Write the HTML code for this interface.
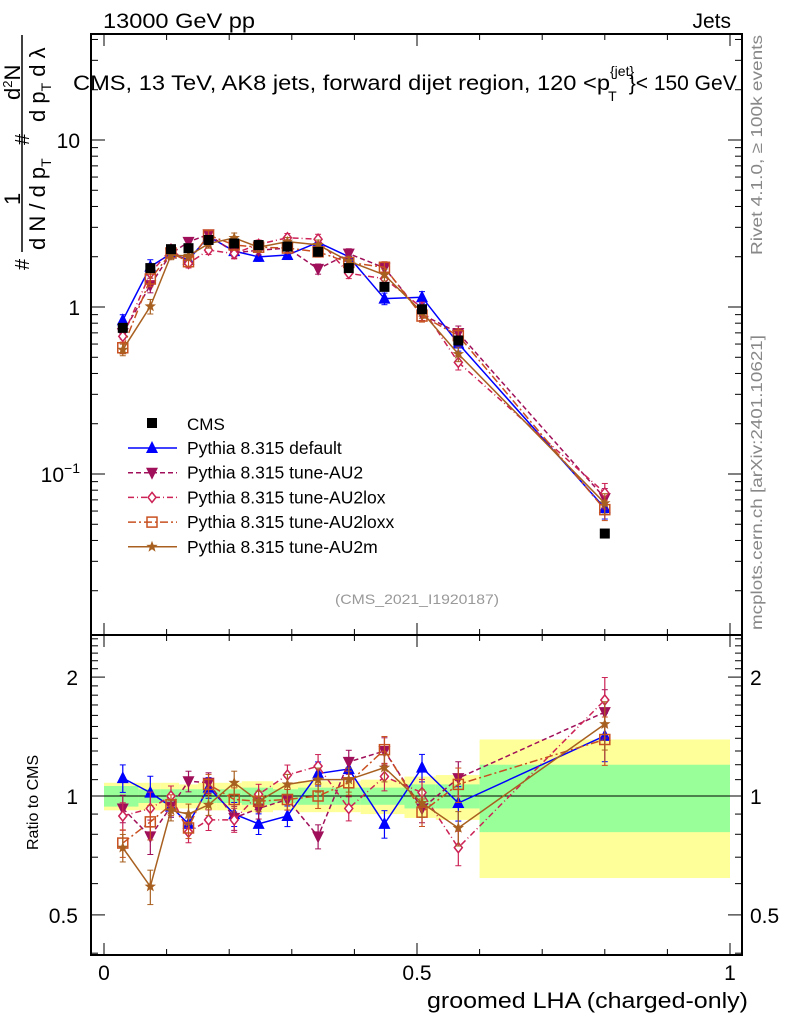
<!DOCTYPE html>
<html><head><meta charset="utf-8"><style>
body{margin:0;background:#fff;}
svg{display:block;font-family:"Liberation Sans",sans-serif;}
</style></head><body>
<svg id="c" width="786" height="1024" xmlns="http://www.w3.org/2000/svg"></svg>
<script>
const edges=[0,0.055,0.09,0.12,0.15,0.18,0.22,0.27,0.31,0.37,0.41,0.48,0.53,0.6,1.0];
const xs=[0.03,0.074,0.107,0.135,0.167,0.208,0.247,0.293,0.342,0.391,0.448,0.508,0.566,0.8];
const cms=[0.75,1.71,2.22,2.25,2.52,2.4,2.35,2.3,2.14,1.71,1.32,0.97,0.63,0.044];
const cmsErr=[0.06,0.04,0.04,0.04,0.04,0.04,0.05,0.04,0.05,0.05,0.05,0.07,0.07,0.2];
const cmsErr2=[0.08,0.08,0.08,0.07,0.08,0.08,0.09,0.08,0.09,0.09,0.1,0.12,0.13,0.39];
const cmsErrLo=[0.06,0.04,0.04,0.04,0.04,0.04,0.05,0.04,0.05,0.05,0.05,0.07,0.07,0.19];
const cmsErr2Lo=[0.08,0.08,0.08,0.07,0.08,0.08,0.09,0.08,0.09,0.09,0.1,0.12,0.13,0.38];
const rDefault=[1.11,1.02,0.94,0.85,1.05,0.90,0.85,0.89,1.14,1.17,0.85,1.18,0.96,1.42];
const rAU2=[0.93,0.79,0.94,1.09,1.08,0.88,0.93,0.98,0.79,1.22,1.30,0.93,1.11,1.63];
const rAU2lox=[0.89,0.93,1.0,0.81,0.87,0.87,1.01,1.13,1.19,0.93,1.12,1.02,0.74,1.75];
const rAU2loxx=[0.76,0.86,0.95,0.83,1.07,0.98,0.97,0.98,1.0,1.08,1.31,0.91,1.07,1.39];
const rAU2m=[0.74,0.59,0.92,0.90,0.95,1.08,0.97,1.07,1.10,1.10,1.18,0.96,0.83,1.52];
const mcErr=[0.08,0.1,0.06,0.06,0.06,0.07,0.06,0.06,0.07,0.07,0.08,0.08,0.1,0.14];

const svg=document.getElementById('c');
const NS='http://www.w3.org/2000/svg';
function mk(t,a,p){const e=document.createElementNS(NS,t);for(const k in a)e.setAttribute(k,a[k]);(p||svg).appendChild(e);return e;}
const L=91,R=742,T=34,M=635,B=955;
const X=v=>104+v*626;
const Ym=v=>307-Math.log10(v)*167;
const Yr=v=>796-Math.log10(v)*395;

edges.slice(0,-1).forEach((e,i)=>{
 const y1=Yr(1+cmsErr2[i]),y2=Yr(1-cmsErr2Lo[i]);
 const b=mk('rect',{x:X(e),y:y1,width:X(edges[i+1])-X(e),height:y2-y1,fill:'#ffff99'});
 
 
});
edges.slice(0,-1).forEach((e,i)=>{
 const y1=Yr(1+cmsErr[i]),y2=Yr(1-cmsErrLo[i]);
 const b=mk('rect',{x:X(e),y:y1,width:X(edges[i+1])-X(e),height:y2-y1,fill:'#99ff99'});
 
 
});
mk('line',{x1:L,x2:R,y1:Yr(1),y2:Yr(1),stroke:'#000','stroke-width':1});

mk('rect',{x:L,y:T,width:R-L,height:M-T,fill:'none',stroke:'#000','stroke-width':2,});
mk('rect',{x:L,y:M,width:R-L,height:B-M,fill:'none',stroke:'#000','stroke-width':2,});

for(let i=0;i<=10;i++){const v=i/10,x=X(v),big=i%5==0,h=big?12:6;
 [[T,1],[M,-1],[M,1],[B,-1]].forEach(([y,d])=>mk('line',{x1:x,x2:x,y1:y,y2:y+d*h,stroke:'#000'}));}
[['0',0],['0.5',0.5],['1',1]].forEach(([t,v])=>{const e=mk('text',{x:X(v),y:980,'font-size':21,'text-anchor':'middle'});e.textContent=t;});
for(let d=-2;d<=1;d++)for(let m=1;m<10;m++){const v=m*Math.pow(10,d),y=Ym(v);if(y<T||y>M)continue;const h=m==1?14:7;
 mk('line',{x1:L,x2:L+h,y1:y,y2:y,stroke:'#000'});mk('line',{x1:R,x2:R-h,y1:y,y2:y,stroke:'#000'});}
[['10',10],['1',1]].forEach(([t,v])=>{const e=mk('text',{x:80,y:Ym(v)+8,'font-size':21,'text-anchor':'end'});e.textContent=t;});
{const e=mk('text',{x:80,y:Ym(0.1)+8,'font-size':21,'text-anchor':'end',});e.innerHTML='10<tspan dy="-9" font-size="14">−1</tspan>';}
[0.4,0.5,0.6,0.7,0.8,0.9,1,1.1,1.2,1.3,1.4,1.5,1.6,1.7,1.8,1.9,2,2.1,2.2,2.3,2.4,2.5].forEach(v=>{const y=Yr(v);if(y<M||y>B)return;const big=[0.5,1,2].includes(v),h=big?14:7;
 mk('line',{x1:L,x2:L+h,y1:y,y2:y,stroke:'#000'});mk('line',{x1:R,x2:R-h,y1:y,y2:y,stroke:'#000'});});
[['2',2],['1',1],['0.5',0.5]].forEach(([t,v])=>{
 let e=mk('text',{x:78,y:Yr(v)+8,'font-size':21,'text-anchor':'end'});e.textContent=t;
 e=mk('text',{x:750,y:Yr(v)+8,'font-size':21});e.textContent=t;});

function marker(type,x,y,col,g){
 if(type=='sq')mk('rect',{x:x-5,y:y-5,width:10,height:10,fill:'#000'},g);
 if(type=='up')mk('polygon',{points:`${x},${y-7} ${x-6},${y+5} ${x+6},${y+5}`,fill:col},g);
 if(type=='down')mk('polygon',{points:`${x},${y+7} ${x-6},${y-5} ${x+6},${y-5}`,fill:col},g);
 if(type=='dia')mk('polygon',{points:`${x},${y-5} ${x+4},${y} ${x},${y+5} ${x-4},${y}`,fill:'#fff',stroke:col,'stroke-width':1.5},g);
 if(type=='osq')mk('rect',{x:x-5,y:y-5,width:10,height:10,fill:'none',stroke:col,'stroke-width':1.5},g);
 if(type=='star'){let p=[];for(let k=0;k<10;k++){const r=k%2?2.5:6,a=-Math.PI/2+k*Math.PI/5;p.push((x+r*Math.cos(a)).toFixed(1)+','+(y+r*Math.sin(a)).toFixed(1));}mk('polygon',{points:p.join(' '),fill:col},g);}
}
const series=[
 {name:'Pythia 8.315 default',r:rDefault,col:'#0000ff',dash:'',m:'up',id:'default'},
 {name:'Pythia 8.315 tune-AU2',r:rAU2,col:'#a0105a',dash:'5,3',m:'down',id:'au2'},
 {name:'Pythia 8.315 tune-AU2lox',r:rAU2lox,col:'#cc2255',dash:'6,3,1,3',m:'dia',id:'au2lox'},
 {name:'Pythia 8.315 tune-AU2loxx',r:rAU2loxx,col:'#c85020',dash:'8,3,2,3',m:'osq',id:'au2loxx'},
 {name:'Pythia 8.315 tune-AU2m',r:rAU2m,col:'#a86020',dash:'',m:'star',id:'au2m'}];
series.forEach(s=>{
 ['main','ratio'].forEach(p=>{
  const g=mk('g',{});
  
  
  const vals=s.r.map((r,i)=>p=='main'?r*cms[i]:r);
  const Y=p=='main'?Ym:Yr;
  mk('polyline',{points:vals.map((v,i)=>X(xs[i])+','+Y(v)).join(' '),fill:'none',stroke:s.col,'stroke-width':1.5,'stroke-dasharray':s.dash},g);
  vals.forEach((v,i)=>{const x=X(xs[i]),y1=Y(v*(1+mcErr[i])),y2=Y(v*(1-mcErr[i]));
   mk('line',{x1:x,x2:x,y1:y1,y2:y2,stroke:s.col,'stroke-width':1.2},g);
   mk('line',{x1:x-3,x2:x+3,y1:y1,y2:y1,stroke:s.col},g);mk('line',{x1:x-3,x2:x+3,y1:y2,y2:y2,stroke:s.col},g);
   marker(s.m,x,Y(v),s.col,g);});
 });
});
{const g=mk('g',{});
 cms.forEach((v,i)=>marker('sq',X(xs[i]),Ym(v),'#000',g));}

const lg=mk('g',{});
{mk('rect',{x:147,y:418,width:10,height:10,fill:'#000'},lg);
 const t=mk('text',{x:187,y:430,'font-size':17},lg);t.textContent='CMS';}
series.forEach((s,k)=>{const y=448+k*24.7;
 mk('line',{x1:128,x2:177,y1:y,y2:y,stroke:s.col,'stroke-width':1.5,'stroke-dasharray':s.dash},lg);
 marker(s.m,152,y,s.col,lg);
 const t=mk('text',{x:187,y:y+6,'font-size':17.5},lg);t.textContent=s.name;
 
 });
</script>
<svg width="786" height="1024" style="position:absolute;left:0;top:0" xmlns="http://www.w3.org/2000/svg" font-family="Liberation Sans, sans-serif">
<text x="103" y="28" font-size="21" textLength="152" lengthAdjust="spacingAndGlyphs">13000 GeV pp</text>
<text x="731" y="28" font-size="21" text-anchor="end">Jets</text>
<text x="73" y="90" font-size="21"><tspan textLength="537" lengthAdjust="spacingAndGlyphs">CMS, 13 TeV, AK8 jets, forward dijet region, 120 &lt;p</tspan><tspan font-size="14" dy="-14">{jet}</tspan><tspan font-size="14" dx="-26" dy="25">T</tspan><tspan dx="12" dy="-11">}&lt; 150 GeV</tspan></text>
<text x="417" y="604" font-size="14" fill="#999" text-anchor="middle" textLength="164" lengthAdjust="spacingAndGlyphs">(CMS_2021_I1920187)</text>
<text transform="translate(762,255) rotate(-90)" font-size="16" fill="#888" textLength="220" lengthAdjust="spacingAndGlyphs">Rivet 4.1.0, ≥ 100k events</text>
<text transform="translate(762,630) rotate(-90)" font-size="16" fill="#888" textLength="295" lengthAdjust="spacingAndGlyphs">mcplots.cern.ch [arXiv:2401.10621]</text>
<text transform="translate(38,850) rotate(-90)" font-size="16">Ratio to CMS</text>
<text x="748" y="1008" font-size="22" text-anchor="end" textLength="321" lengthAdjust="spacingAndGlyphs">groomed LHA (charged-only)</text>
<g font-size="22">
<line x1="22" y1="35" x2="22" y2="252" stroke="#000" stroke-width="1.5"/>
<text transform="translate(29,270) rotate(-90)" font-size="20">#</text>
<text transform="translate(20,205) rotate(-90)">1</text>
<text transform="translate(45,250) rotate(-90)">d N / d p<tspan font-size="14" dy="6">T</tspan></text>
<text transform="translate(29,145) rotate(-90)" font-size="20">#</text>
<text transform="translate(20,100) rotate(-90)">d<tspan font-size="13" dy="-8">2</tspan><tspan dy="8">N</tspan></text>
<text transform="translate(45,122) rotate(-90)">d p<tspan font-size="14" dy="6">T</tspan><tspan dy="-6">  d λ</tspan></text>
</g>
</svg>
</body></html>
